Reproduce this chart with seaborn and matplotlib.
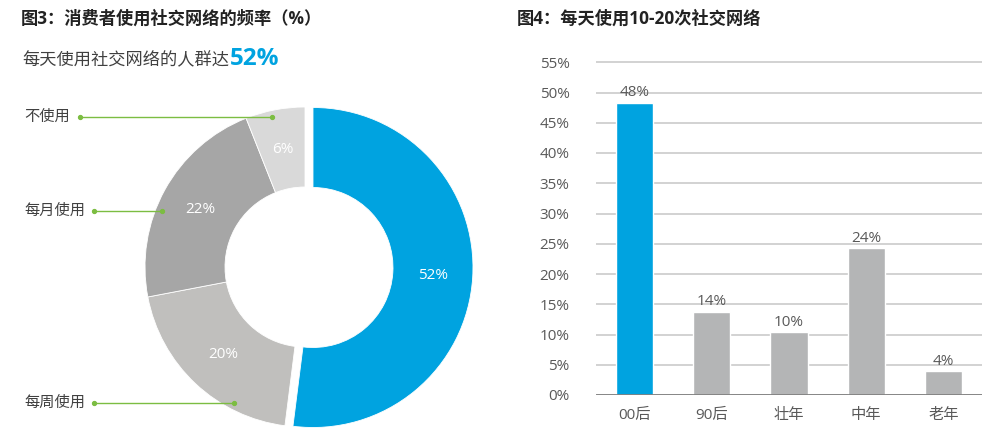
import matplotlib
matplotlib.use("Agg")
import matplotlib.pyplot as plt
import seaborn as sns
import numpy as np
import pandas as pd

# ---------------- data ----------------
pie_labels = ["每天使用", "每周使用", "每月使用", "不使用"]
pie_values = [52, 20, 22, 6]
bar_categories = ["00后", "90后", "壮年", "中年", "老年"]
bar_values = [48.3, 13.8, 10.4, 24.3, 3.9]
bar_labels = ["48%", "14%", "10%", "24%", "4%"]
y_ticks = [0, 5, 10, 15, 20, 25, 30, 35, 40, 45, 50, 55]
title3 = "图3：消费者使用社交网络的频率（%）"
subtitle3 = "每天使用社交网络的人群达"
title4 = "图4：每天使用10-20次社交网络"

# ---------------- style ----------------
sns.set_theme(style="white")
plt.rcParams["font.family"] = ["Open Sans", "Noto Sans CJK SC", "DejaVu Sans"]

BLUE = "#00a3e0"
GRAY_BAR = "#b4b5b6"
PIE_COLORS = [BLUE, "#c0bfbd", "#a6a6a6", "#d9d9d9"]
GREEN = "#7cbd42"
TXT = "#595959"

W, H = 1000, 441
fig = plt.figure(figsize=(10, 4.41), dpi=100)

def fx(px):
    return px / W

def fy(py):
    return (H - py) / H

# ---------------- titles ----------------
fig.text(fx(21), fy(19), title3, fontsize=12.4, fontweight="bold", color="#222222",
         ha="left", va="center")
fig.text(fx(517), fy(19), title4, fontsize=12.4, fontweight="bold", color="#222222",
         ha="left", va="center")
sub = fig.text(fx(22), fy(61), subtitle3, fontsize=12.4, color="#404040", ha="left", va="center")
fig.canvas.draw()
bb = sub.get_window_extent()
fig.text(bb.x1 / W + 0.001, fy(59), f"{pie_values[0]}%", fontsize=17.5, fontweight="bold",
         color=BLUE, ha="left", va="center")

# ---------------- donut ----------------
cx, cy, R = 305, 267, 160
lim = 1.12
size = 2 * lim * R
axp = fig.add_axes([fx(cx - size / 2), fy(cy + size / 2), size / W, size / H])
explode = [0.05, 0, 0, 0]
wedges, texts, autotexts = axp.pie(
    pie_values, colors=PIE_COLORS, startangle=90, counterclock=False,
    explode=explode, radius=1.0, autopct=lambda p: f"{p:.0f}%", pctdistance=0.75,
    wedgeprops=dict(width=0.5, edgecolor="white", linewidth=0.6),
    textprops=dict(color="white", fontsize=11))
axp.set_xlim(-lim, lim)
axp.set_ylim(-lim, lim)
axp.set_aspect("equal")
axp.axis("off")

# leader labels (layout positions for text rows, in donut data units)
leader = {
    "不使用": (0.9375, -1.406),
    "每月使用": (0.35, -1.319),
    "每周使用": (-0.85, -1.319),
}
r_end = 0.96
for name, (yy, xs) in leader.items():
    xe = -np.sqrt(r_end ** 2 - yy ** 2)
    axp.plot([xs, xe], [yy, yy], color=GREEN, lw=1.0, marker="o", markersize=2.8,
             clip_on=False)
    axp.text(-1.755, yy, name, fontsize=11, color="#404040", ha="left", va="center",
             clip_on=False)

# ---------------- bar chart ----------------
axb = fig.add_axes([fx(596), fy(395), (982 - 596) / W, (395 - 56.2) / H])
df = pd.DataFrame({"cat": bar_categories, "val": bar_values})
palette = {c: (BLUE if i == 0 else GRAY_BAR) for i, c in enumerate(bar_categories)}
sns.barplot(data=df, x="cat", y="val", hue="cat", palette=palette, legend=False,
            width=0.48, ax=axb, saturation=1)
axb.set_ylim(0, 56)
axb.set_xlim(-0.5, len(bar_categories) - 0.5)
axb.set_yticks(y_ticks)
axb.set_yticklabels([f"{t}%" for t in y_ticks])
axb.set_xlabel("")
axb.set_ylabel("")
for s in axb.spines.values():
    s.set_visible(False)
axb.yaxis.grid(True, color="#cbcbcb", lw=1.2)
axb.set_axisbelow(True)
axb.axhline(0, color="#7f7f7f", lw=2.0, zorder=3)
axb.tick_params(axis="y", length=0, pad=19, labelsize=11, labelcolor=TXT)
axb.tick_params(axis="x", length=0, pad=9, labelsize=11, labelcolor=TXT)
for i, (v, lab) in enumerate(zip(bar_values, bar_labels)):
    axb.text(i, v + 0.4, lab, ha="center", va="bottom", fontsize=11, color=TXT)

fig.savefig("out.png", dpi=100, facecolor="white")
